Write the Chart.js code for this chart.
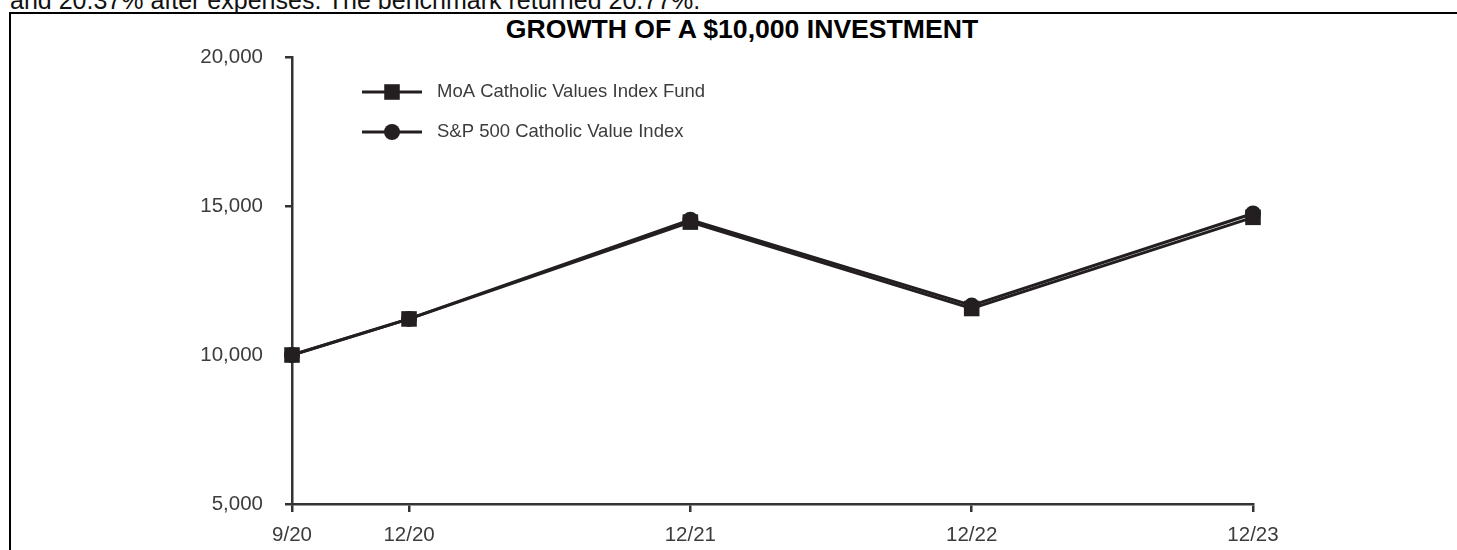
<!DOCTYPE html>
<html>
<head>
<meta charset="utf-8">
<script src="https://cdn.jsdelivr.net/npm/chart.js@4.4.1/dist/chart.umd.min.js"></script>
<style>
  body { margin:0; width:1457px; height:550px; overflow:hidden; background:#fff; font-family:"Liberation Sans", Arial, sans-serif; }
  #intro { position:absolute; left:10px; top:-12px; font-size:25px; line-height:25px; color:#111; white-space:nowrap; }
  #frame { position:absolute; left:9px; top:12px; right:-10px; height:600px; border-top:2px solid #000; border-left:2px solid #000; }
  #title { position:absolute; left:242px; width:1000px; top:16px; text-align:center; font-size:26.6px; line-height:26px; font-weight:bold; color:#000; white-space:nowrap; }
  #chart { position:absolute; left:0; top:0; }
</style>
</head>
<body>
<div id="intro">and 20.37% after expenses. The benchmark returned 20.77%.</div>
<div id="frame"></div>
<div id="title">GROWTH OF A $10,000 INVESTMENT</div>
<canvas id="chart" width="1457" height="550"></canvas>
<script>
// dates on the x axis, first gap is one quarter, then whole years
const xLabels = ["9/20", "12/20", "12/21", "12/22", "12/23"]
const xPos = [0, 0.416, 1.416, 2.416, 3.416]

const fundName = "MoA Catholic Values Index Fund"
const indexName = "S&P 500 Catholic Value Index"
const fundValues = [10000, 11210, 14460, 11560, 14620]
const indexValues = [10000, 11210, 14540, 11660, 14750]

const yTicks = [5000, 10000, 15000, 20000]

const ink = "#231f20"
const labelColor = "#3c3c3c"
const fontFamily = '"Liberation Sans", Arial, sans-serif'

const toPoints = (vals) => vals.map((v, i) => ({ x: xPos[i], y: v }))

// legend drawn as line + marker, stacked top-left inside the plot
const sideLegend = {
  id: "sideLegend",
  afterDraw(chart, args, opts) {
    const ctx = chart.ctx
    chart.data.datasets.forEach((ds, i) => {
      const y = opts.y + i * opts.rowGap
      ctx.save()
      ctx.strokeStyle = ds.borderColor
      ctx.lineWidth = ds.borderWidth
      ctx.beginPath()
      ctx.moveTo(opts.x, y)
      ctx.lineTo(opts.x + opts.lineLength, y)
      ctx.stroke()
      ctx.fillStyle = ds.pointBackgroundColor
      Chart.helpers.drawPoint(ctx, { pointStyle: ds.pointStyle, radius: ds.pointRadius, borderWidth: 0, rotation: 0 }, opts.x + opts.lineLength / 2, y)
      ctx.fillStyle = labelColor
      ctx.font = opts.fontSize + "px " + fontFamily
      ctx.textBaseline = "middle"
      ctx.textAlign = "left"
      ctx.fillText(ds.label, opts.x + opts.lineLength + opts.gap, y)
      ctx.restore()
    })
  }
}

new Chart(document.getElementById("chart").getContext("2d"), {
  type: "line",
  data: {
    datasets: [
      {
        label: fundName,
        data: toPoints(fundValues),
        borderColor: ink,
        borderWidth: 3,
        pointStyle: "rect",
        pointRadius: 11,
        pointBackgroundColor: ink,
        pointBorderWidth: 0,
        tension: 0,
        fill: false,
        clip: false
      },
      {
        label: indexName,
        data: toPoints(indexValues),
        borderColor: ink,
        borderWidth: 3,
        pointStyle: "circle",
        pointRadius: 8,
        pointBackgroundColor: ink,
        pointBorderWidth: 0,
        tension: 0,
        fill: false,
        clip: false
      }
    ]
  },
  options: {
    responsive: false,
    animation: false,
    layout: { padding: { left: 0, top: 57, right: 204, bottom: 0 } },
    scales: {
      x: {
        type: "linear",
        min: xPos[0],
        max: xPos[xPos.length - 1],
        afterBuildTicks: (scale) => { scale.ticks = xPos.map(v => ({ value: v })) },
        afterFit: (scale) => { scale.height = 46 },
        ticks: {
          autoSkip: false,
          maxRotation: 0,
          padding: 11,
          color: labelColor,
          font: { family: fontFamily, size: 20.5 },
          callback: (value, index) => xLabels[index]
        },
        grid: { drawOnChartArea: false, drawTicks: true, tickLength: 8, color: "#333", lineWidth: 2.5 },
        border: { display: true, color: "#333", width: 2.5 }
      },
      y: {
        min: yTicks[0],
        max: yTicks[yTicks.length - 1],
        afterBuildTicks: (scale) => { scale.ticks = yTicks.map(v => ({ value: v })) },
        afterFit: (scale) => { scale.width = 292 },
        ticks: {
          padding: 22,
          color: labelColor,
          font: { family: fontFamily, size: 20.5 },
          callback: (value) => value.toLocaleString("en-US")
        },
        grid: { drawOnChartArea: false, drawTicks: true, tickLength: 7, color: "#333", lineWidth: 2.5 },
        border: { display: true, color: "#333", width: 2.5 }
      }
    },
    plugins: {
      legend: { display: false },
      tooltip: { enabled: false },
      sideLegend: { x: 362, y: 92, rowGap: 40, lineLength: 60, gap: 15, fontSize: 18.5 }
    }
  },
  plugins: [sideLegend]
});
</script>
</body>
</html>
